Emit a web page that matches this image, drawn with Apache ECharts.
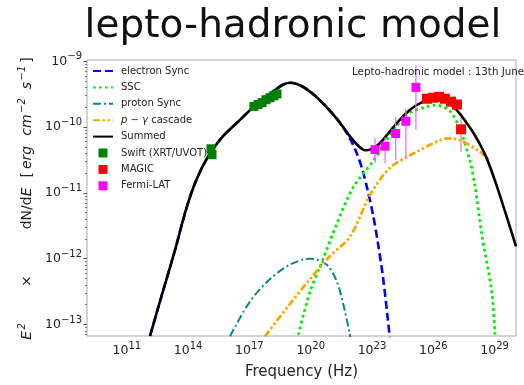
<!DOCTYPE html>
<html>
<head>
<meta charset="utf-8">
<script src="https://cdn.jsdelivr.net/npm/echarts@6/dist/echarts.min.js"></script>
<style>
  html, body { margin: 0; padding: 0; background: #ffffff; }
  #chart { width: 524px; height: 385px; }
</style>
</head>
<body>
<div id="chart"></div>
<script>
// Model curves: [log10 frequency (Hz), log10 E^2 dN/dE (erg cm^-2 s^-1)]
const summedCurve = [
  [12.134, -13.176], [12.721, -12.545], [13.357, -11.871], [13.896, -11.255], [14.385, -10.815],
  [14.973, -10.449], [15.658, -10.155], [16.539, -9.891], [17.224, -9.686], [18.007, -9.496],
  [18.595, -9.364], [18.986, -9.327], [19.476, -9.364], [20.112, -9.496], [20.748, -9.686],
  [21.433, -9.935], [21.923, -10.141], [22.315, -10.279], [22.657, -10.353], [23.000, -10.331],
  [23.392, -10.243], [24.028, -10.009], [24.615, -9.804], [25.154, -9.672], [25.692, -9.591],
  [26.182, -9.569], [26.671, -9.613], [27.161, -9.745], [27.601, -9.921], [28.042, -10.126],
  [28.580, -10.449], [29.070, -10.859], [29.559, -11.328], [30.049, -11.812]
];
const electronSync = [
  [12.134, -13.176], [12.721, -12.545], [13.357, -11.871], [13.896, -11.255], [14.385, -10.815],
  [14.973, -10.449], [15.658, -10.155], [16.539, -9.891], [17.224, -9.686], [18.007, -9.496],
  [18.595, -9.364], [18.986, -9.327], [19.476, -9.364], [20.112, -9.496], [20.748, -9.686],
  [21.433, -9.935], [21.923, -10.177], [22.266, -10.405], [22.511, -10.625], [22.755, -10.918],
  [23.049, -11.328], [23.294, -11.768], [23.539, -12.282], [23.783, -12.941], [23.881, -13.235]
];
const sscCurve = [
  [19.39, -13.16], [19.97, -12.50], [20.60, -12.01], [21.27, -11.475], [22.07, -10.92],
  [23.05, -10.52], [23.88, -10.13], [24.70, -9.81], [25.68, -9.69], [26.17, -9.667],
  [26.82, -9.76], [27.31, -10.03], [27.80, -10.52], [28.04, -10.89], [28.37, -11.62],
  [28.86, -12.50], [29.02, -13.13], [29.07, -13.38]
];
const protonSync = [
  [16.05, -13.18], [17.03, -12.65], [18.01, -12.31], [18.99, -12.09], [19.97, -12.00],
  [20.78, -12.09], [21.27, -12.34], [21.60, -12.70], [21.92, -13.16], [22.02, -13.38]
];
const pgCascade = [
  [17.76, -13.18], [18.83, -12.75], [19.97, -12.31], [20.94, -11.96], [21.92, -11.67],
  [22.90, -11.035], [23.88, -10.62], [25.19, -10.375], [26.33, -10.20], [26.82, -10.17],
  [27.31, -10.20], [28.29, -10.375], [28.78, -10.52]
];

// Observations: [log10 frequency, log10 flux]
const swiftPoints = [
  [15.12, -10.33], [15.17, -10.42], [17.22, -9.686], [17.42, -9.657], [17.62, -9.628],
  [17.81, -9.584], [18.01, -9.554], [18.20, -9.525], [18.35, -9.496]
];
const magicPoints = [
  [25.69, -9.569], [25.99, -9.554], [26.28, -9.54], [26.57, -9.569], [26.87, -9.613],
  [27.16, -9.657], [27.36, -10.034]
];
// [log10 frequency, log10 lower, log10 upper]
const magicErrors = [
  [27.36, -10.375, -9.862]
];
const fermiPoints = [
  [23.15, -10.342], [23.64, -10.29], [24.16, -10.097], [24.66, -9.911], [25.15, -9.397]
];
const fermiErrors = [
  [23.15, -10.55, -10.17], [23.64, -10.55, -10.15], [24.16, -10.50, -9.85],
  [24.66, -10.48, -9.72], [25.15, -10.04, -9.06]
];

// Axis ticks (log10 exponents)
const xTickExponents = [11, 14, 17, 20, 23, 26, 29];
const yTickExponents = [-13, -12, -11, -10, -9];
const xRangeExp = [9.05, 30.05];
const yRangeExp = [-13.176, -8.98];

const pow10 = (e) => Math.pow(10, e);
const toXY = (arr) => arr.map(p => [pow10(p[0]), pow10(p[1])]);
const toErr = (arr) => arr.map(p => [pow10(p[0]), pow10(p[1]), pow10(p[2])]);

const yMinorTicks = [];
for (let e = -14; e <= -9; e++) {
  for (let m = 2; m <= 9; m++) yMinorTicks.push(m * pow10(e));
}

const FONT = 'DejaVu Sans';
const supLabel = (v) => {
  const e = Math.round(Math.log10(v));
  return '{b|10}{s|' + String(e).replace('-', '\u2212') + '}';
};
const tickRich = {
  b: { fontSize: 12.5, fontFamily: FONT, color: '#222' },
  s: { fontSize: 10, fontFamily: FONT, color: '#222', padding: [0, 0, 9, 0] }
};

const errRender = (color) => (params, api) => {
  const p1 = api.coord([api.value(0), api.value(1)]);
  const p2 = api.coord([api.value(0), api.value(2)]);
  return {
    type: 'line',
    shape: { x1: p1[0], y1: p1[1], x2: p2[0], y2: p2[1] },
    style: { stroke: color, lineWidth: 1.2 }
  };
};

// legend entries for lines: keep the line, hide the marker dot
const lineEntry = (name) => ({ name, itemStyle: { opacity: 0 } });
const squareEntry = (name) => ({ name, icon: 'path://M0,0h10v10h-10z' });

// rich-text pieces of the y-axis title
const yTitleRich = (() => {
  const base = { fontFamily: FONT, fontSize: 14, color: '#222' };
  const ital = Object.assign({}, base, { fontStyle: 'italic' });
  return {
    i: ital,
    n: base,
    x: Object.assign({}, base, { padding: [0, 46, 0, 36] }),
    b: Object.assign({}, base, { padding: [0, 0, 0, 10] }),
    g3: Object.assign({}, ital, { padding: [0, 0, 0, 3] }),
    g10: Object.assign({}, ital, { padding: [0, 0, 0, 10] }),
    g9: Object.assign({}, ital, { padding: [0, 0, 0, 9] }),
    e: Object.assign({}, base, { padding: [0, 1, 0, 3] }),
    sup: Object.assign({}, ital, { fontSize: 10, padding: [0, 0, 10, 1.5] })
  };
})();

const chart = echarts.init(document.getElementById('chart'), null, { renderer: 'canvas' });

chart.setOption({
  animation: false,
  backgroundColor: '#ffffff',
  graphic: [
    {
      type: 'text', x: 293, y: 27, z: 10,
      style: {
        text: 'lepto-hadronic model', fontFamily: FONT, fontSize: 39, fill: '#111',
        align: 'center', verticalAlign: 'middle'
      }
    },
    {
      type: 'text', left: 352, top: 67, z: 10,
      style: { text: 'Lepto-hadronic model : 13th June', fontFamily: FONT, fontSize: 10.3, fill: '#222' }
    }
  ],
  grid: {
    left: 87, right: 8, top: 60, bottom: 39,
    show: true, borderColor: '#a8a8a8', borderWidth: 1, backgroundColor: 'transparent'
  },
  legend: {
    orient: 'vertical', left: 92, top: 65, padding: 0,
    itemWidth: 20, itemHeight: 9, itemGap: 4.4,
    textStyle: {
      fontFamily: FONT, fontSize: 10, color: '#222', lineHeight: 12, padding: [0, 0, 0, 3],
      rich: { it: { fontFamily: FONT, fontStyle: 'italic', fontSize: 10, color: '#222' } }
    },
    formatter: (name) => name === 'p \u2212 \u03b3 cascade' ? '{it|p} \u2212 {it|\u03b3} cascade' : name,
    data: [
      lineEntry('electron Sync'),
      lineEntry('SSC'),
      lineEntry('proton Sync'),
      lineEntry('p \u2212 \u03b3 cascade'),
      lineEntry('Summed'),
      squareEntry('Swift (XRT/UVOT)'),
      squareEntry('MAGIC'),
      squareEntry('Fermi-LAT')
    ]
  },
  xAxis: {
    type: 'log', logBase: 10,
    min: pow10(xRangeExp[0]), max: pow10(xRangeExp[1]),
    name: 'Frequency (Hz)', nameLocation: 'middle', nameGap: 29,
    nameTextStyle: { fontFamily: FONT, fontSize: 15, color: '#222' },
    axisLine: { show: false },
    axisTick: { show: false },
    splitLine: { show: false },
    minorTick: { show: false },
    axisLabel: {
      customValues: xTickExponents.map(pow10),
      formatter: supLabel, rich: tickRich, margin: 5
    }
  },
  yAxis: [
    {
      type: 'log', logBase: 10,
      min: pow10(yRangeExp[0]), max: pow10(yRangeExp[1]),
      name: '{i|E}{sup|2}{x|\u00d7}{n|dN/d}{i|E}{b|[}{g3|erg}{g10|cm}{sup|\u22122}{g9|s}{sup|\u22121}{e|]}',
      nameLocation: 'middle', nameGap: 47, nameRotate: 90,
      nameTextStyle: { rich: yTitleRich },
      axisLine: { show: false },
      axisTick: { show: true, length: 3.5, lineStyle: { color: '#555' }, customValues: yTickExponents.map(pow10) },
      splitLine: { show: false },
      axisLabel: {
        customValues: yTickExponents.map(pow10),
        formatter: supLabel, rich: tickRich, margin: 5
      }
    },
    {
      type: 'log', logBase: 10,
      min: pow10(yRangeExp[0]), max: pow10(yRangeExp[1]),
      position: 'left',
      axisLine: { show: false },
      axisTick: { show: true, length: 2, lineStyle: { color: '#777' }, customValues: yMinorTicks },
      axisLabel: { show: false },
      splitLine: { show: false }
    }
  ],
  series: [
    {
      name: 'electron Sync', type: 'line', data: toXY(electronSync), smooth: 0.3,
      symbol: 'none', clip: true, z: 3,
      lineStyle: { color: '#0000ff', width: 2.6, type: [8, 4] }
    },
    {
      name: 'SSC', type: 'line', data: toXY(sscCurve), smooth: 0.3,
      symbol: 'none', clip: true, z: 3,
      lineStyle: { color: '#00ee00', width: 2.8, type: [2.8, 3.2] }
    },
    {
      name: 'proton Sync', type: 'line', data: toXY(protonSync), smooth: 0.3,
      symbol: 'none', clip: true, z: 3,
      lineStyle: { color: '#008b8b', width: 2, type: [8, 3, 2, 3] }
    },
    {
      name: 'p \u2212 \u03b3 cascade', type: 'line', data: toXY(pgCascade), smooth: 0.3,
      symbol: 'none', clip: true, z: 3,
      lineStyle: { color: '#ffa500', width: 2.8, type: [7, 2.5, 2.5, 2.5, 2.5, 2.5] }
    },
    {
      name: 'Summed', type: 'line', data: toXY(summedCurve), smooth: 0.3,
      symbol: 'none', clip: true, z: 4,
      lineStyle: { color: '#000000', width: 2.6 }
    },
    {
      name: 'MAGIC errors', type: 'custom', renderItem: errRender('#f08080'),
      data: toErr(magicErrors), encode: { x: 0, y: [1, 2] }, z: 5, silent: true
    },
    {
      name: 'Fermi errors', type: 'custom', renderItem: errRender('#ee66ee'),
      data: toErr(fermiErrors), encode: { x: 0, y: [1, 2] }, z: 5, silent: true
    },
    {
      name: 'Swift (XRT/UVOT)', type: 'scatter', data: toXY(swiftPoints),
      symbol: 'rect', symbolSize: 9, z: 6, itemStyle: { color: '#008000', opacity: 1 }
    },
    {
      name: 'MAGIC', type: 'scatter', data: toXY(magicPoints),
      symbol: 'rect', symbolSize: 10, z: 6, itemStyle: { color: '#ff0000', opacity: 1 }
    },
    {
      name: 'Fermi-LAT', type: 'scatter', data: toXY(fermiPoints),
      symbol: 'rect', symbolSize: 9, z: 6, itemStyle: { color: '#ff00ff', opacity: 1 }
    }
  ]
});
</script>
</body>
</html>
